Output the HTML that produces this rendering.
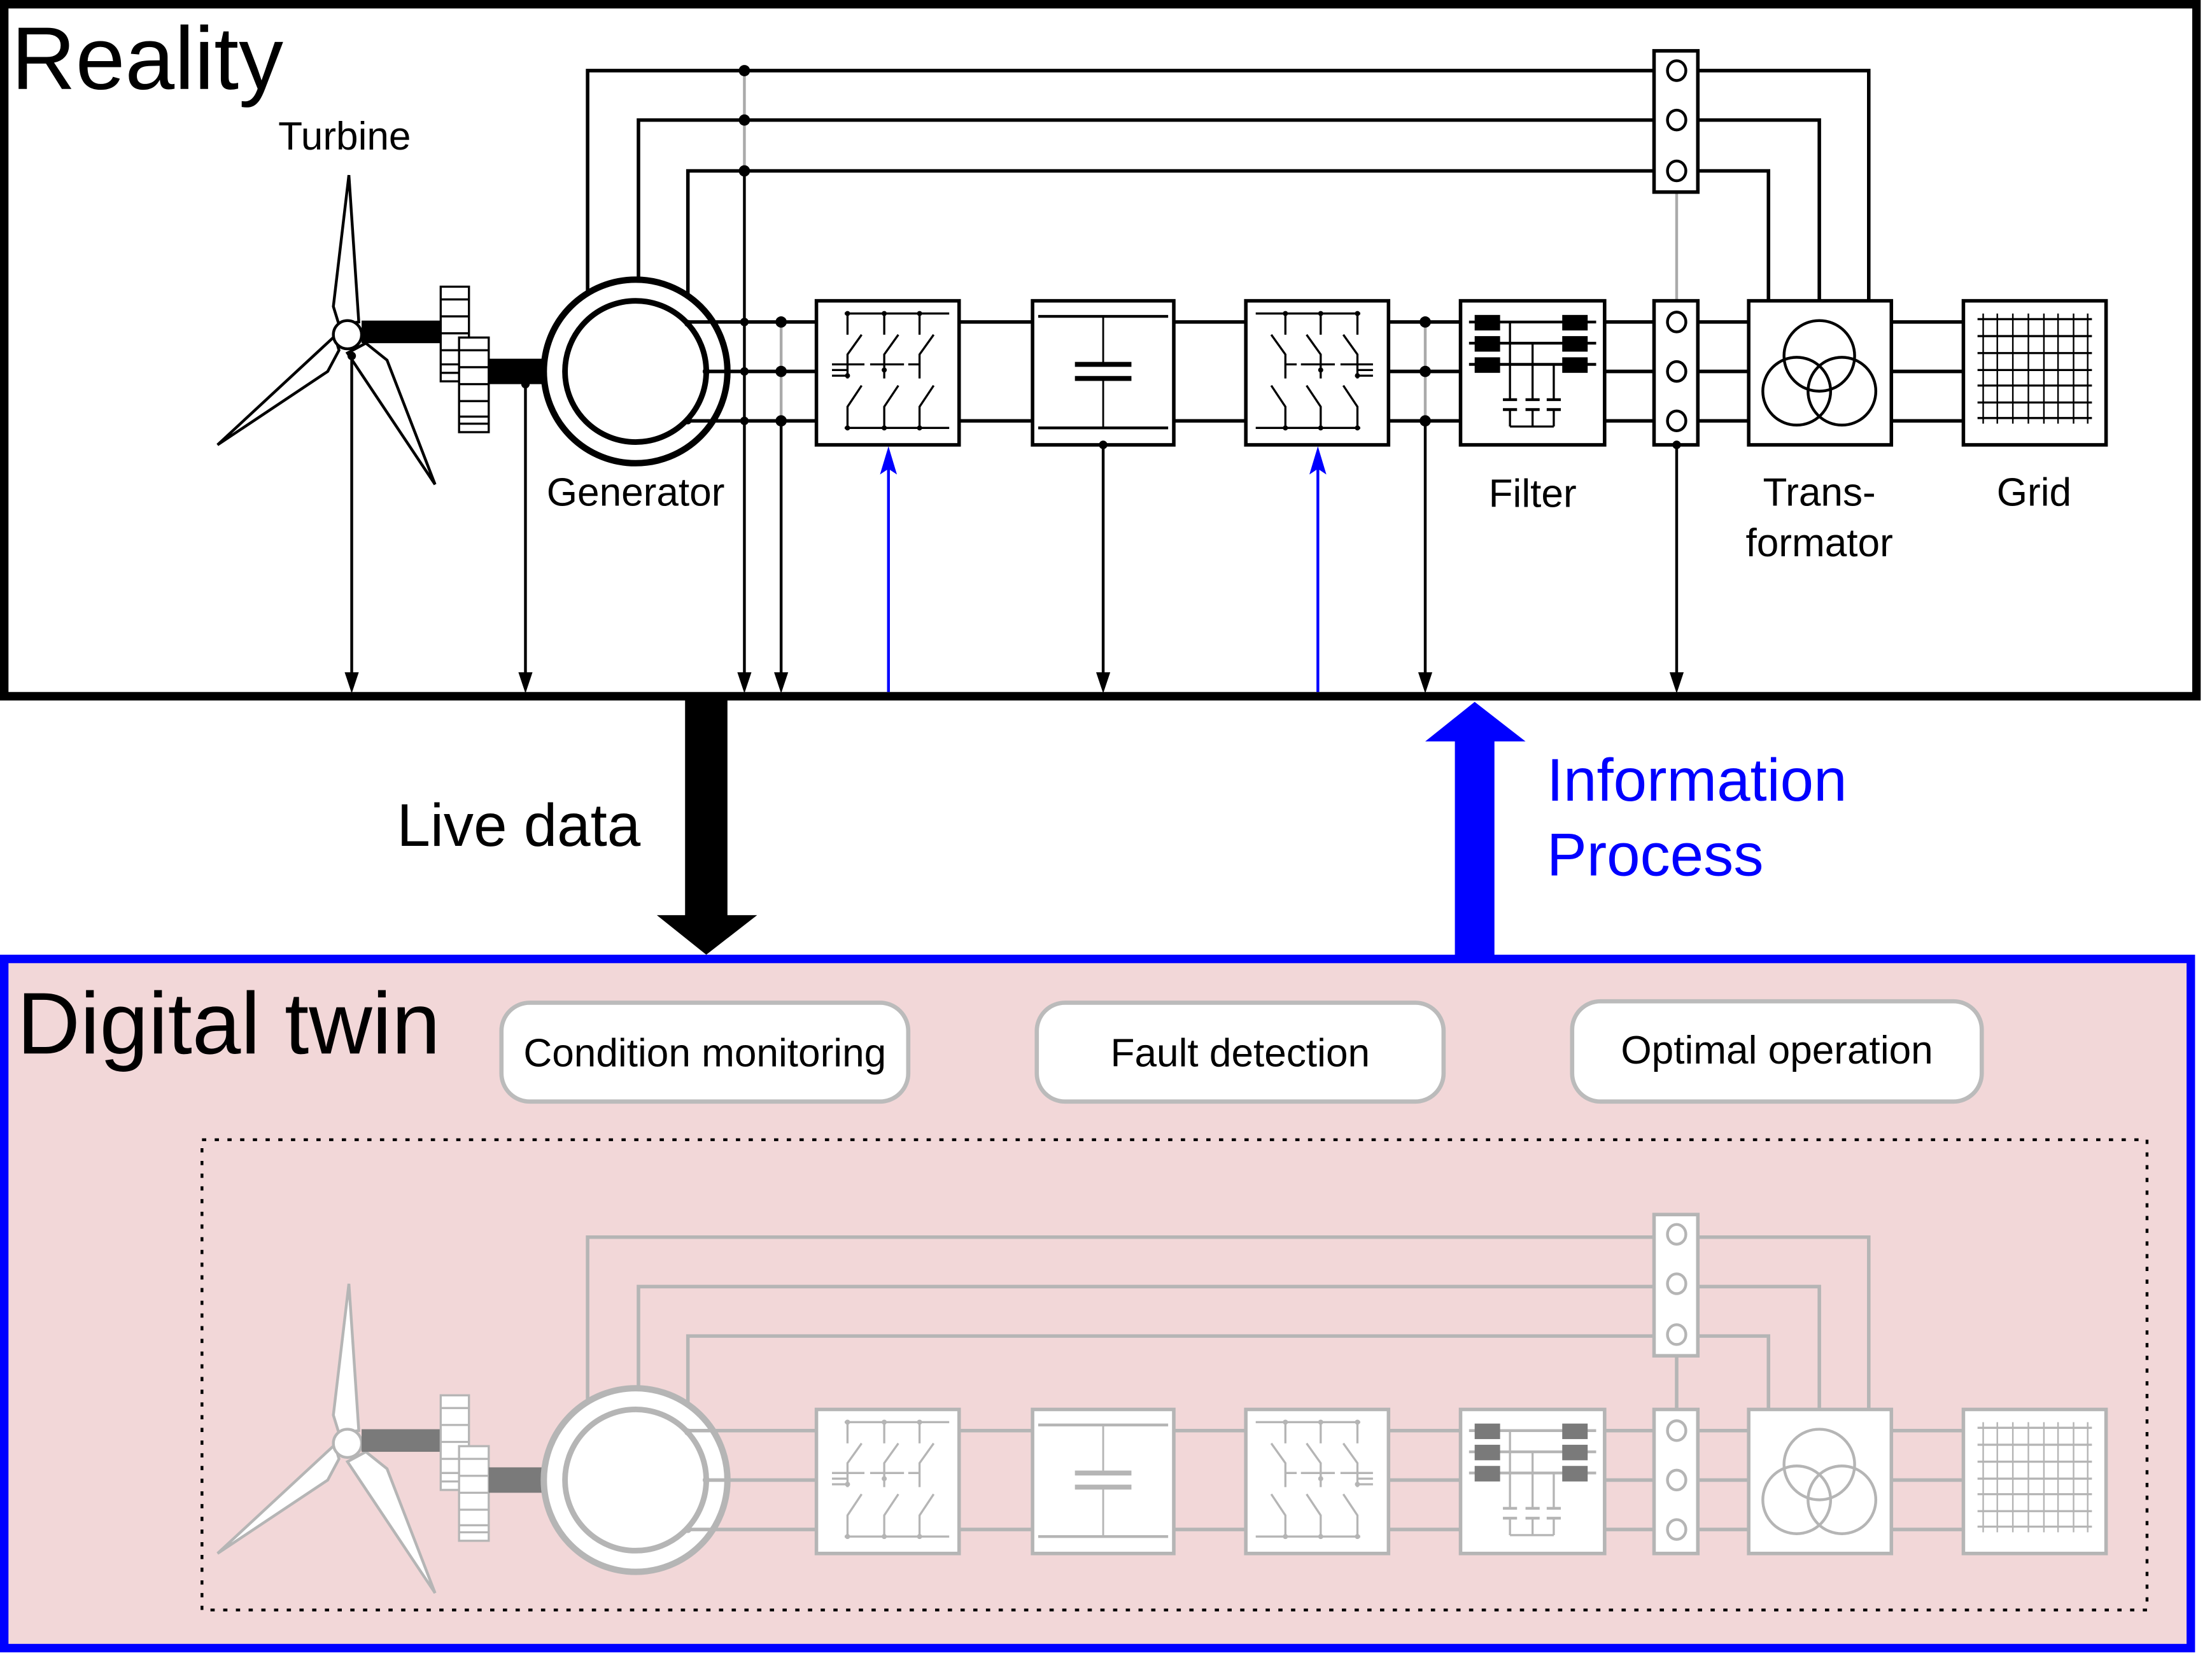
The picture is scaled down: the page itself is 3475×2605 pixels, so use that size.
<!DOCTYPE html>
<html><head><meta charset="utf-8"><style>
html,body{margin:0;padding:0;background:#fff;}
svg{display:block;}
text{font-family:"Liberation Sans",Arial,sans-serif;}
</style></head><body>
<svg width="3475" height="2605" viewBox="0 0 1566 1174" preserveAspectRatio="none" xmlns="http://www.w3.org/2000/svg" xmlns:xlink="http://www.w3.org/1999/xlink">
<defs>
<g id="conv">
  <rect x="578" y="213" width="101" height="102" fill="#fff" stroke="currentColor" stroke-width="2.5"/>
  <g stroke="currentColor" stroke-width="1.5" fill="none">
    <path d="M598 222H672M598 303H672"/>
    <path d="M600 222V237M610 237L600 251V268M610 273L600 288V303"/>
    <path d="M626 222V237M636 237L626 251V268M636 273L626 288V303"/>
    <path d="M651 222V237M661 237L651 251V268M661 273L651 288V303"/>
    <path d="M589 258H612M616 258H640M643 258H651M589 262H600M589 266H600"/>
  </g>
  <g fill="currentColor"><circle cx="600" cy="222" r="1.8"/><circle cx="626" cy="222" r="1.8"/><circle cx="651" cy="222" r="1.8"/><circle cx="600" cy="303" r="1.8"/><circle cx="626" cy="303" r="1.8"/><circle cx="651" cy="303" r="1.8"/><circle cx="626" cy="262" r="1.8"/><circle cx="600" cy="266" r="1.8"/></g>
</g>
<g id="row">
  <g fill="#fff" stroke="currentColor" stroke-width="2">
    <polygon points="247,124 254,228 240,230 236,217"/>
    <polygon points="237,238 154,315 232,263 240,248"/>
    <polygon points="259,243 274,255 308,343 246,250"/>
    <circle cx="246" cy="237" r="10"/>
  </g>
  <rect x="256" y="227" width="57" height="16" fill="var(--dk)"/>
  <g fill="#fff" stroke="currentColor" stroke-width="1.5">
    <rect x="312" y="203" width="20" height="67"/>
    <path d="M312 212H332M312 224H332M312 236H332M312 248H332M312 258H332M312 264H332" fill="none"/>
    <rect x="325" y="239" width="21" height="67"/>
    <path d="M325 248H346M325 260H346M325 272H346M325 284H346M325 295H346M325 300H346" fill="none"/>
  </g>
  <rect x="346" y="254" width="55" height="18" fill="var(--dk)"/>
  <circle cx="450" cy="263" r="65" fill="#fff" stroke="currentColor" stroke-width="4.5"/>
  <circle cx="450" cy="263" r="50" fill="#fff" stroke="currentColor" stroke-width="4"/>
  <g fill="currentColor"><circle cx="487" cy="229" r="2.5"/><circle cx="500" cy="263" r="2.5"/><circle cx="487" cy="298" r="2.5"/></g>
  <g stroke="currentColor" stroke-width="2.5" fill="none">
    <path d="M487 228H578M501 263H578M487 298H578"/>
    <path d="M679 228H731M679 298H731M831 228H882M831 298H882"/>
    <path d="M983 228H1034M983 263H1034M983 298H1034"/>
    <path d="M1136 228H1171M1136 263H1171M1136 298H1171"/>
    <path d="M1202 228H1238M1202 263H1238M1202 298H1238"/>
    <path d="M1339 228H1390M1339 263H1390M1339 298H1390"/>
  </g>
  <use xlink:href="#conv"/>
  <use xlink:href="#conv" transform="translate(1561,0) scale(-1,1)"/>
  <rect x="731" y="213" width="100" height="102" fill="#fff" stroke="currentColor" stroke-width="2.5"/>
  <g stroke="currentColor" fill="none">
    <path d="M735 224H827M735 303H827" stroke-width="2"/>
    <path d="M781 224V258M781 268V303" stroke-width="1.3"/>
    <path d="M761 258H801M761 268H801" stroke-width="3.5"/>
  </g>
  <rect x="1034" y="213" width="102" height="102" fill="#fff" stroke="currentColor" stroke-width="2.5"/>
  <g stroke="currentColor" fill="none" stroke-width="1.5">
    <path d="M1040 228H1130M1040 243H1130M1040 258H1130" stroke-width="2"/>
    <path d="M1069 228V283M1085 243V283M1100 258V283M1069 290V302M1085 290V302M1100 290V302M1069 302H1100"/>
    <path d="M1064 283H1074M1080 283H1090M1095 283H1105M1064 290H1074M1080 290H1090M1095 290H1105" stroke-width="2"/>
  </g>
  <g fill="var(--dk)">
    <rect x="1044" y="223" width="18" height="11"/><rect x="1044" y="238" width="18" height="11"/><rect x="1044" y="253" width="18" height="11"/>
    <rect x="1106" y="223" width="18" height="11"/><rect x="1106" y="238" width="18" height="11"/><rect x="1106" y="253" width="18" height="11"/>
  </g>
  <rect x="1171" y="213" width="31" height="102" fill="#fff" stroke="currentColor" stroke-width="2.5"/>
  <g fill="none" stroke="currentColor" stroke-width="2">
    <ellipse cx="1187" cy="228" rx="6.5" ry="7"/><ellipse cx="1187" cy="263" rx="6.5" ry="7"/><ellipse cx="1187" cy="298" rx="6.5" ry="7"/>
  </g>
  <rect x="1238" y="213" width="101" height="102" fill="#fff" stroke="currentColor" stroke-width="2.5"/>
  <g fill="none" stroke="currentColor" stroke-width="2">
    <circle cx="1272" cy="277" r="24"/><circle cx="1304" cy="277" r="24"/><circle cx="1288" cy="252" r="25"/>
  </g>
  <rect x="1390" y="213" width="101" height="102" fill="#fff" stroke="currentColor" stroke-width="2.5"/>
  <g stroke="currentColor" stroke-width="1.5">
    <path d="M1400 226H1481M1400 238H1481M1400 250H1481M1400 262H1481M1400 273H1481M1400 285H1481M1400 296H1481"/>
    <path d="M1404 222V300M1414 222V300M1425 222V300M1436 222V300M1447 222V300M1457 222V300M1468 222V300M1478 222V300" stroke-width="1.1"/>
  </g>
</g>
</defs>

<rect x="3" y="3" width="1552" height="490" fill="#fff" stroke="#000" stroke-width="6"/>
<text x="8" y="63" font-size="63">Reality</text>
<text x="197" y="106" font-size="28">Turbine</text>

<g stroke="#000" stroke-width="2.5" fill="none">
  <path d="M416 206V50H1323V213"/>
  <path d="M452 198V85H1288V213"/>
  <path d="M487 209V121H1252V213"/>
</g>
<path d="M527 50V121M553 228V298M1009 228V298M1187 136V213" stroke="#aaa" stroke-width="2"/>
<rect x="1171" y="36" width="31" height="100" fill="#fff" stroke="#000" stroke-width="2.5"/>
<g fill="none" stroke="#000" stroke-width="2">
  <ellipse cx="1187" cy="50" rx="6.5" ry="7"/><ellipse cx="1187" cy="85" rx="6.5" ry="7"/><ellipse cx="1187" cy="121" rx="6.5" ry="7"/>
</g>
<use xlink:href="#row" style="color:#000;--dk:#000"/>

<g stroke="#000" stroke-width="2">
  <path d="M249 250V482M372 272V482M527 121V482M553 298V482M781 315V482M1009 298V482M1187 315V482"/>
</g>
<g fill="#000">
  <circle cx="527" cy="50" r="4"/><circle cx="527" cy="85" r="4"/><circle cx="527" cy="121" r="4"/>
  <circle cx="553" cy="228" r="4"/><circle cx="553" cy="263" r="4"/><circle cx="553" cy="298" r="4"/>
  <circle cx="1009" cy="228" r="4"/><circle cx="1009" cy="263" r="4"/><circle cx="1009" cy="298" r="4"/>
  <circle cx="527" cy="228" r="3"/><circle cx="527" cy="263" r="3"/><circle cx="527" cy="298" r="3"/>
  <circle cx="249" cy="252" r="3"/><circle cx="372" cy="272" r="3"/><circle cx="781" cy="315" r="3"/><circle cx="1187" cy="315" r="3"/>
  <polygon points="244,476 254,476 249,491"/><polygon points="367,476 377,476 372,491"/>
  <polygon points="522,476 532,476 527,491"/><polygon points="548,476 558,476 553,491"/>
  <polygon points="776,476 786,476 781,491"/><polygon points="1004,476 1014,476 1009,491"/>
  <polygon points="1182,476 1192,476 1187,491"/>
</g>
<g stroke="#00f" stroke-width="2"><path d="M629 490V328M933 490V328"/></g>
<g fill="#00f"><polygon points="629,316 623,336 629,332 635,336"/><polygon points="933,316 927,336 933,332 939,336"/></g>

<text x="450" y="358" font-size="28" text-anchor="middle">Generator</text>
<text x="1085" y="359" font-size="28" text-anchor="middle">Filter</text>
<text x="1288" y="358" font-size="28" text-anchor="middle">Trans-</text>
<text x="1288" y="394" font-size="28" text-anchor="middle">formator</text>
<text x="1440" y="358" font-size="28" text-anchor="middle">Grid</text>

<rect x="485" y="493" width="30" height="156" fill="#000"/>
<polygon points="465,648 536,648 500,676" fill="#000"/>
<text x="281" y="599" font-size="42.5">Live data</text>
<rect x="1030" y="524" width="28" height="156" fill="#00f"/>
<polygon points="1009,525 1080,525 1044,497" fill="#00f"/>
<text x="1095" y="567" font-size="42.5" fill="#00f">Information</text>
<text x="1095" y="620" font-size="42.5" fill="#00f">Process</text>

<rect x="3" y="679" width="1548" height="488" fill="#f2d7d8" stroke="#00f" stroke-width="6"/>
<text x="12" y="746" font-size="62">Digital twin</text>
<g fill="#fff" stroke="#bbb" stroke-width="3">
  <rect x="355" y="710" width="288" height="70" rx="20"/>
  <rect x="734" y="710" width="288" height="70" rx="20"/>
  <rect x="1113" y="709" width="290" height="71" rx="20"/>
</g>
<text x="499" y="755" font-size="28" text-anchor="middle">Condition monitoring</text>
<text x="878" y="755" font-size="28" text-anchor="middle">Fault detection</text>
<text x="1258" y="753" font-size="28" text-anchor="middle">Optimal operation</text>
<rect x="143" y="807" width="1377" height="333" fill="none" stroke="#000" stroke-width="2" stroke-dasharray="3,6"/>

<g stroke="#b5b5b5" stroke-width="2.5" fill="none">
  <path d="M416 991V876H1323V998"/>
  <path d="M452 983V911H1288V998"/>
  <path d="M487 994V946H1252V998"/>
  <path d="M1187 960V998"/>
</g>
<rect x="1171" y="860" width="31" height="100" fill="#fff" stroke="#b5b5b5" stroke-width="2.5"/>
<g fill="none" stroke="#b5b5b5" stroke-width="2">
  <ellipse cx="1187" cy="874" rx="6.5" ry="7"/><ellipse cx="1187" cy="909" rx="6.5" ry="7"/><ellipse cx="1187" cy="945" rx="6.5" ry="7"/>
</g>
<use xlink:href="#row" transform="translate(0,785)" style="color:#b5b5b5;--dk:#7a7a7a"/>
</svg>
</body></html>
